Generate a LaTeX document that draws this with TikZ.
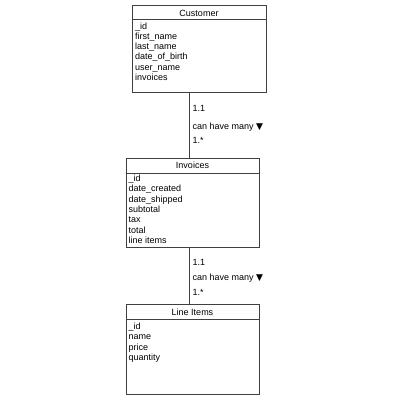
\documentclass[tikz,border=0pt]{standalone}
\usepackage{fontspec}
\setmainfont{Liberation Sans}
\newfontfamily\symfont{DejaVu Sans}
\newcommand\downmark{{\symfont\fontsize{9}{10}\selectfont ▼}}
\begin{document}
\begin{tikzpicture}[x=1pt,y=-1pt,
  entity/.style={draw=black!75,line width=0.9pt,rectangle,anchor=north west,inner sep=0pt},
  divider/.style={draw=black!75,line width=0.9pt},
  link/.style={draw=black!75,line width=0.9pt},
  title/.style={anchor=base,inner sep=0pt,font=\fontsize{9}{10.3}\selectfont},
  % multi-line field lists are placed by the baseline of their last line
  fields/.style={anchor=base west,inner sep=0pt,align=left,font=\fontsize{9}{10.3}\selectfont},
  lbl/.style={anchor=base west,inner sep=0pt,font=\fontsize{9}{10.3}\selectfont}]
\useasboundingbox (0,0) rectangle (400,400);
\fill[white] (0,0) rectangle (400,400);

% Customer entity
\node[entity,minimum width=134pt,minimum height=87pt] (cust) at (132,5) {};
\draw[divider] (cust.west |- 0,19) coordinate (custL) -- (cust.east |- 0,19) coordinate (custR);
\node[title] (custT) at (199,16) {Customer};
\node[fields] (custF) at (135,80.5) {\_id\\first\_name\\last\_name\\date\_of\_birth\\user\_name\\invoices};

% Invoices entity
\node[entity,minimum width=133pt,minimum height=89pt] (inv) at (126,158) {};
\draw[divider] (inv.west |- 0,173) coordinate (invL) -- (inv.east |- 0,173) coordinate (invR);
\node[title] (invT) at (192.5,168.7) {Invoices};
\node[fields] (invF) at (128.5,243.3) {\_id\\date\_created\\date\_shipped\\subtotal\\tax\\total\\line items};

% Line Items entity
\node[entity,minimum width=133pt,minimum height=90pt] (li) at (126,304) {};
\draw[divider] (li.west |- 0,319) coordinate (liL) -- (li.east |- 0,319) coordinate (liR);
\node[title] (liT) at (192.5,315) {Line Items};
\node[fields] (liF) at (128.5,360.5) {\_id\\name\\price\\quantity};

% relationship lines
\coordinate (axis) at (189.5,0);
\draw[link] (cust.south -| axis) -- (inv.north -| axis);
\draw[link] (inv.south -| axis) -- (li.north -| axis);

% relationship labels
\node[lbl] (m1a) at (192.3,111.7) {1.1};
\node[lbl] (m1b) at (192.3,129.5) {can have many \downmark};
\node[lbl] (m1c) at (192.3,143.3) {1.*};
\node[lbl] (m2a) at (192.3,265.7) {1.1};
\node[lbl] (m2b) at (192.3,280.5) {can have many \downmark};
\node[lbl] (m2c) at (192.3,295) {1.*};
\end{tikzpicture}
\end{document}
